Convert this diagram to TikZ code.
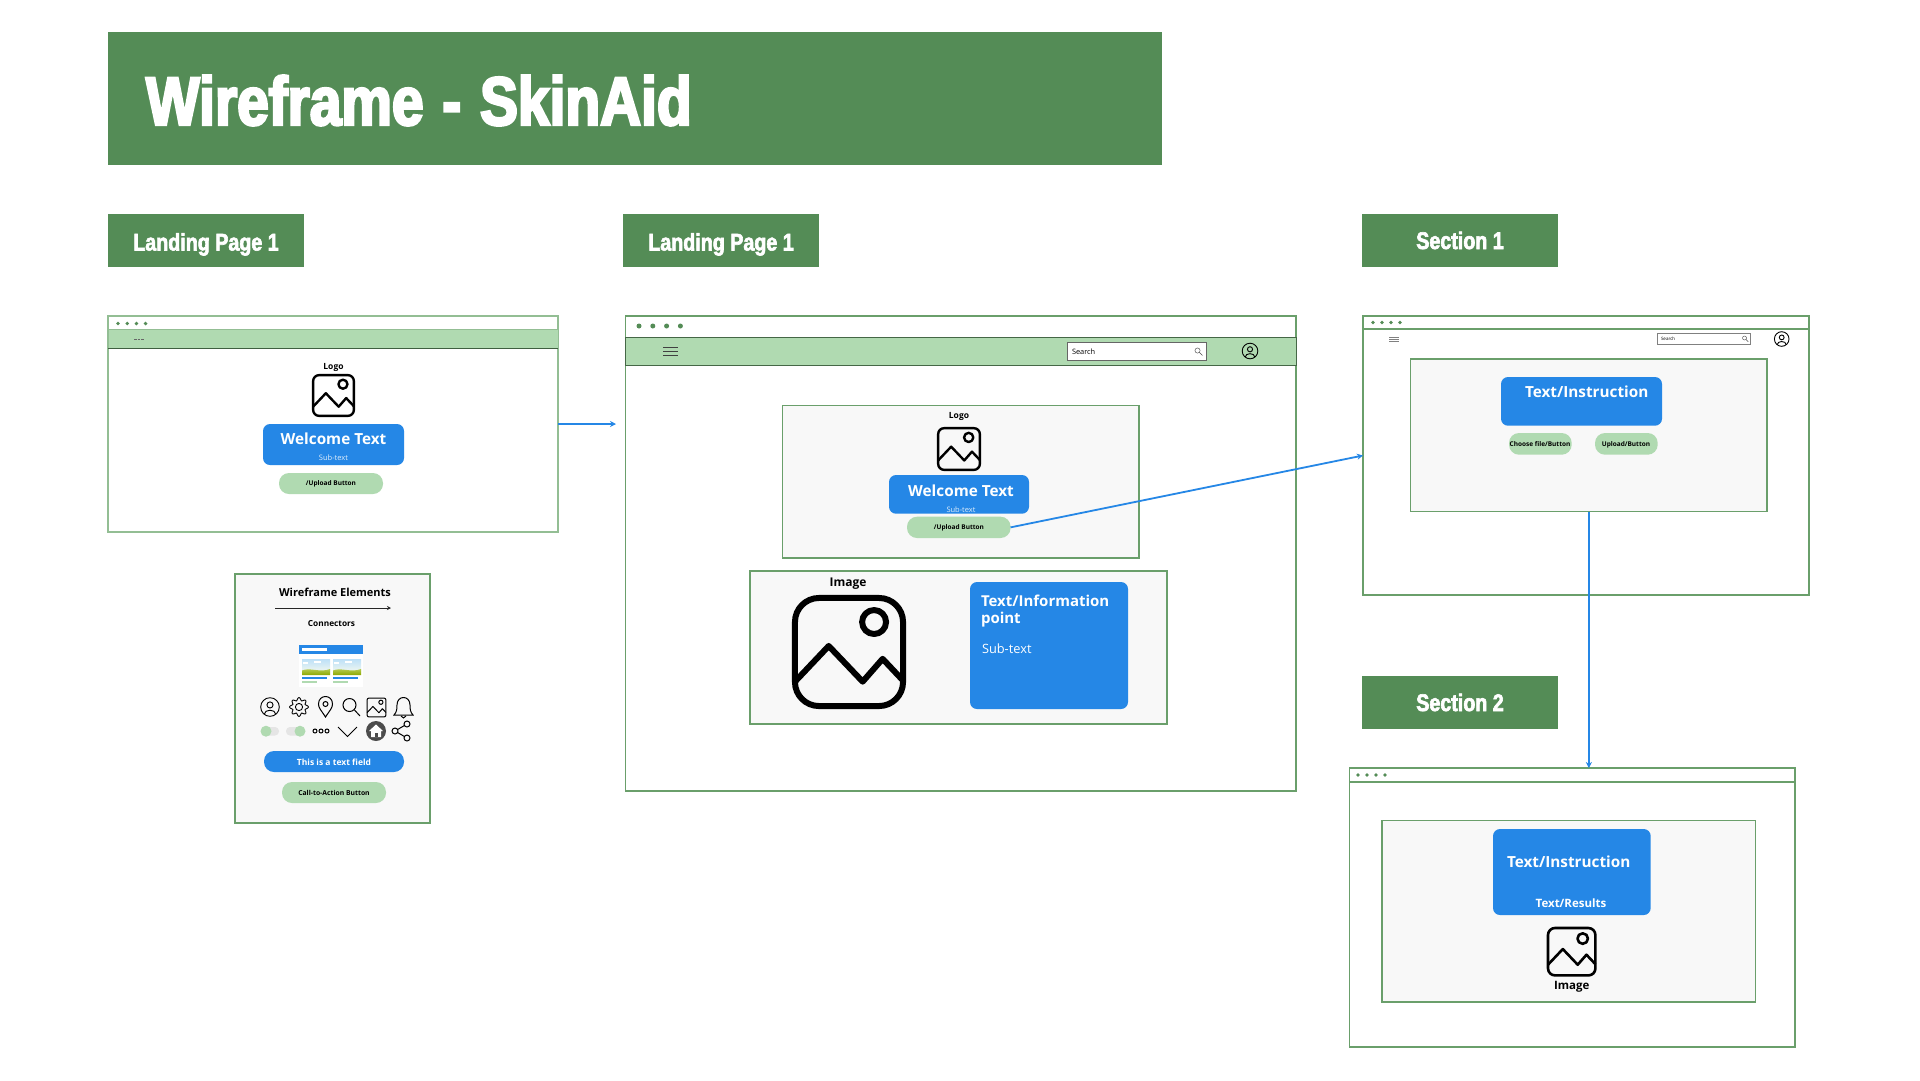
\documentclass[tikz,border=0pt]{standalone}
\usepackage{fontspec}
\setmainfont{Open Sans}
\newfontfamily\titlefont[FakeStretch=0.83,FakeBold=3.6]{Liberation Sans Bold}
\newfontfamily\headfont[FakeStretch=0.82,FakeBold=2.6]{Liberation Sans Bold}
\usetikzlibrary{arrows.meta}
\definecolor{hdr}{HTML}{548C56}
\definecolor{lgreen}{HTML}{B0DAB1}
\definecolor{wblue}{HTML}{2587E6}
\definecolor{pnl}{HTML}{F8F8F8}
\definecolor{frm}{HTML}{6A9F6B}
\definecolor{frmlight}{HTML}{93BE94}
\definecolor{skytop}{HTML}{BDE0F8}
\definecolor{skybot}{HTML}{F2F8F0}
\definecolor{hilltop}{HTML}{C2D46A}
\definecolor{hillbot}{HTML}{8CA800}
\tikzset{
 boxbase/.style={inner sep=0pt,outer sep=0pt,align=center},
 header/.style={boxbase,fill=hdr,text=white},
 frame/.style={boxbase,draw=frm,line width=1.1pt,fill=white},
 bar/.style={boxbase,draw=black!35!frm,line width=0.9pt,fill=lgreen},
 panel/.style={boxbase,draw=frm,line width=1.1pt,fill=pnl},
 bluebox/.style={boxbase,fill=wblue,text=white,rounded corners=7pt},
 bluepill/.style={boxbase,fill=wblue,text=white,rounded corners=10pt},
 pill/.style={boxbase,fill=lgreen,text=black,rounded corners=10pt},
 label/.style={inner sep=0pt,outer sep=0pt,align=center},
 conn/.style={draw=wblue,line width=1.8pt,-{Stealth[length=6pt,width=6pt]}},
 dot/.style={fill=hdr,draw=none},
 ic/.style={draw=black,line width=1pt,fill=none},
 headlabel/.style={label,text=white,font=\headfont\fontsize{24}{24}\selectfont,text height=17pt,text depth=0pt},
}
% corners -> node
\newcommand{\rn}[7][]{\node[#2,#1,minimum width={(#5-#3)*1pt},minimum height={(#6-#4)*1pt}] (#7) at ({(#3+#5)/2},{(#4+#6)/2}) {};}
% text node, vertically centred on its cap height
\newcommand{\tn}[5][]{\pgfmathsetmacro\tnh{0.71*#5}\node[label,#1,font=\bfseries\fontsize{#5}{#5}\selectfont,text height=\tnh pt,text depth=0pt] (#2) at (#3,{#4+0.06*#5})}
\newcommand{\imgicon}[5]{% x y size lw radius
 \begin{scope}[shift={(#1,#2)},x=#3pt,y=-#3pt,line width=#4pt,line join=round]
 \draw[rounded corners=#5pt] (0.026,0.026) rectangle (0.974,0.974);
 \draw (0.72,0.237) circle (0.105);
 \draw (0.026,0.76) -- (0.322,0.447) -- (0.62,0.76) -- (0.795,0.56) -- (0.974,0.75);
 \end{scope}}
\newcommand{\fourdots}[4]{% x y step r
 \foreach \i in {0,1,2,3} \fill[dot] ({#1+\i*#3},#2) circle (#4);}
\newcommand{\usericon}[3]{% x y r
 \begin{scope}[shift={(#1,#2)},x=#3pt,y=-#3pt,line width=0.9pt,black]
 \draw (0,0) circle (1);
 \draw (0,-0.22) circle (0.33);
 \draw (-0.62,0.78) .. controls (-0.6,0.2) and (0.6,0.2) .. (0.62,0.78);
 \end{scope}}
\newcommand{\magicon}[3]{% x y r
 \draw[black!70,line width=0.45pt] (#1,#2) circle (#3);
 \draw[black!70,line width=0.45pt] ({#1+0.7*#3},{#2+0.7*#3}) -- ({#1+1.9*#3},{#2+1.9*#3});}
\newcommand{\burger}[5]{% x1 x2 y gap colour
 \foreach \i in {0,1,2} \draw[#5] (#1,{#3+\i*#4}) -- (#2,{#3+\i*#4});}
\begin{document}
\begin{tikzpicture}[x=1pt,y=-1pt]
\useasboundingbox[fill=white] (0,0) rectangle (1920,1080);
% title
\rn{header}{108}{32}{1162}{165}{titlebox}
\node[label,text=white,anchor=west,font=\titlefont\fontsize{68.5}{68.5}\selectfont,text height=49pt,text depth=0pt] (titletext) at (146,100.5) {Wireframe\hspace{3pt} - \hspace{3pt}SkinAid};
% section headers
\rn{header}{108}{214}{304}{267}{h1}
\node[headlabel] (h1t) at (206,242) {Landing Page 1};
\rn{header}{623}{214}{819}{267}{h2}
\node[headlabel] (h2t) at (721,242) {Landing Page 1};
\rn{header}{1362}{214}{1558}{267}{h3}
\node[headlabel] (h3t) at (h3) {Section 1};
\rn{header}{1362}{676}{1558}{729}{h4}
\node[headlabel] (h4t) at (h4) {Section 2};
% frame 1
\rn[draw=frmlight,line width=1.3pt]{frame}{108}{316}{558}{532}{fa}
\rn[draw=frmlight]{bar}{108}{329}{558}{348}{faBar}
\draw[black!40!frm,line width=1pt] (faBar.south west) -- (faBar.south east);
\fourdots{118}{323.5}{9.2}{1.9}
\foreach \xx in {134,137.5,141} \draw[black!60,line width=0.8pt] (\xx,339) -- ({\xx+2.5},339);
\tn{faLogo}{333.5}{366}{8.5}{Logo};
\imgicon{312}{374}{43}{2.4}{6}
\rn{bluebox}{263}{424}{404}{465}{faBlue}
\tn[text=white]{faWelcome}{333.5}{438}{15.3}{Welcome Text};
\node[label,text=white!85!wblue,font=\fontsize{7.5}{7.5}\selectfont] (faSub) at (333.5,457.5) {Sub-text};
\rn{pill}{279}{473}{383}{494}{faBtn}
\tn{faBtnT}{331}{483}{6.5}{/Upload Button};
% elements panel
\rn[draw=frm]{panel}{235}{574}{430}{823}{ep}
\tn{epT}{335}{592}{11}{Wireframe Elements};
\coordinate (epA) at (275,608);
\coordinate (epB) at (391,608);
\draw[black!85,line width=1pt,-{Stealth[length=4pt,width=4pt]}] (epA) -- (epB);
\tn{epC}{331.5}{623}{8.3}{Connectors};
% thumbnail
\fill[white] (299,645) rectangle (363,687);
\fill[wblue] (299,645) rectangle (363,654);
\fill[white] (302,648) rectangle (327,650.5);
\foreach \xx in {302,333}{
 \shade[top color=skytop,bottom color=skybot] (\xx,659) rectangle ({\xx+28},672);
 \fill[white] ({\xx+1},662) rectangle ({\xx+6},663.5);
 \fill[white] ({\xx+12},661) rectangle ({\xx+19},663);
 \shade[top color=hilltop,bottom color=hillbot] (\xx,670.5) .. controls ({\xx+8},667) and ({\xx+18},673) .. ({\xx+28},669) -- ({\xx+28},675) -- (\xx,675) -- cycle;
 \fill[wblue] (\xx,677) rectangle ({\xx+25},679);
 \fill[lgreen] (\xx,681) rectangle ({\xx+15},683);
}
% icons row 1
\usericon{270}{707}{9.3}
\draw[ic,line width=0.9pt] plot[domain=0:360,samples=65,smooth cycle] ({299+(8+1.4*cos(8*\x))*cos(\x)},{707+(8+1.4*cos(8*\x))*sin(\x)});
\draw[ic,line width=0.9pt] (299,707) circle (3.6);
\draw[ic] (325.5,717) .. controls (321,710) and (318.5,708) .. (318.5,704) .. controls (318.5,694) and (332.5,694) .. (332.5,704) .. controls (332.5,708) and (330,710) .. (325.5,717) -- cycle;
\draw[ic] (325.5,704) circle (2.5);
\draw[ic] (349.5,705) circle (6.5);
\draw[ic] (354.5,710) -- (360,716);
\imgicon{366.5}{697.5}{20}{1}{2}
\draw[ic] (394,715) .. controls (397,712) and (397,708) .. (397,705) .. controls (397,695) and (410,695) .. (410,705) .. controls (410,708) and (410,712) .. (413,715) -- cycle;
\draw[ic] (401,716) .. controls (402,718.5) and (405,718.5) .. (406,716);
% icons row 2
\fill[black!10,rounded corners=4pt] (262,727) rectangle (279,735.5);
\fill[lgreen] (266,731.2) circle (5.5);
\fill[black!10,rounded corners=4pt] (286,727) rectangle (303,735.5);
\fill[lgreen] (300,731.2) circle (5.5);
\foreach \xx in {315,321,327} \draw[ic] (\xx,731) circle (2);
\draw[ic] (338,727) -- (347.5,736.5) -- (357,727);
\fill[black!70] (376,731) circle (10);
\fill[white] (369,731) -- (376,724.5) -- (383,731) -- (381,731) -- (381,737) -- (371,737) -- (371,731) -- cycle;
\fill[black!70] (374.5,733) rectangle (377.5,737);
\draw[ic] (395,731) circle (3) (407,724) circle (3) (407,738) circle (3);
\draw[ic] (397.6,729.5) -- (404.4,725.5) (397.6,732.5) -- (404.4,736.5);
\rn{bluepill}{264}{751}{404}{772}{epField}
\tn[text=white]{epFieldT}{334}{762}{8.5}{This is a text field};
\rn{pill}{282}{782}{386}{803}{epBtn}
\tn{epBtnT}{334}{793}{6.8}{Call-to-Action Button};
% main frame
\rn{frame}{625.4}{316}{1296}{791}{fb}
\rn{bar}{625.4}{337}{1296}{365}{fbBar}
\fourdots{639}{326}{13.8}{2.5}
\burger{663}{678}{347}{4.2}{black!75,line width=1pt}
\rn[draw=black!60,line width=0.8pt,fill=white]{boxbase}{1067}{342.7}{1206.6}{360}{fbSearch}
\node[label,anchor=west,font=\fontsize{7.4}{7.4}\selectfont] (fbSearchT) at (1072,351.5) {Search};
\magicon{1197.5}{350.5}{2.6}
\usericon{1250}{351}{7.8}
\rn{panel}{782.5}{405.7}{1139}{558}{pa}
\tn{paLogo}{959}{415}{8.5}{Logo};
\imgicon{937}{427}{44}{2.4}{6}
\rn{bluebox}{889}{475}{1029}{513.7}{paBlue}
\tn[text=white]{paWelcome}{961}{490.5}{15.3}{Welcome Text};
\node[label,text=white!85!wblue,font=\fontsize{7.5}{7.5}\selectfont] (paSub) at (961,509.5) {Sub-text};
\rn{pill}{907}{516.7}{1010.6}{538}{paBtn}
\tn{paBtnT}{959}{527}{6.5}{/Upload Button};
\rn{panel}{750}{571}{1167}{724}{pb}
\tn{pbImg}{848}{582}{12}{Image};
\imgicon{792}{595}{114}{6}{24}
\rn{bluebox}{970}{582}{1128}{709}{pbBlue}
\node[label,anchor=base west,text=white,font=\bfseries\fontsize{15}{17}\selectfont] (pbT1) at (981,606) {Text/Information};
\node[label,anchor=base west,text=white,font=\bfseries\fontsize{15}{17}\selectfont] (pbT2) at (981,623) {point};
\node[label,anchor=west,text=white,font=\fontsize{12.8}{12.8}\selectfont] (pbSub) at (982,649) {Sub-text};
% section 1 frame
\rn{frame}{1363}{316}{1809}{595}{fc}
\coordinate (fcL) at (1363,329);
\coordinate (fcR) at (1809,329);
\draw[frm,line width=1.1pt] (fcL) -- (fcR);
\fourdots{1373}{322.5}{9}{1.9}
\burger{1389}{1399}{337}{2.4}{black!50,line width=0.7pt}
\rn[draw=black!50,line width=0.7pt,fill=white]{boxbase}{1657}{333}{1750}{344}{fcSearch}
\node[label,anchor=west,font=\fontsize{4.5}{4.5}\selectfont] (fcSearchT) at (1661,338.5) {Search};
\magicon{1744.5}{338}{2}
\usericon{1781.7}{339}{7.3}
\rn{panel}{1410.7}{359}{1767}{511.7}{pc}
\rn{bluebox}{1501}{377}{1662}{425.7}{pcBlue}
\tn[text=white]{pcT}{1586.7}{391}{15.3}{Text/Instruction};
\rn{pill}{1509}{433}{1571.7}{454.7}{pcBtn1}
\tn{pcBtn1T}{1540}{443.7}{6.5}{Choose file/Button};
\rn{pill}{1595}{433}{1657.7}{454.7}{pcBtn2}
\tn{pcBtn2T}{1626}{443.7}{6.5}{Upload/Button};
% section 2 frame
\rn{frame}{1349.4}{768}{1795}{1047}{fd}
\coordinate (fdL) at (1349.4,782);
\coordinate (fdR) at (1795,782);
\draw[frm,line width=1.1pt] (fdL) -- (fdR);
\fourdots{1358}{775}{9}{1.9}
\rn{panel}{1382}{820.7}{1755.7}{1002}{pd}
\rn{bluebox}{1493}{829}{1650.7}{915}{pdBlue}
\tn[text=white]{pdT}{1568.7}{861}{15.3}{Text/Instruction};
\tn[text=white]{pdR}{1571}{902.7}{11.5}{Text/Results};
\imgicon{1546.7}{926.7}{50}{2.6}{7}
\tn{pdI}{1571.7}{984.5}{11.5}{Image};
% connectors
\coordinate (arrowEnd) at (616,424);
\draw[conn] (fa.east) -- (arrowEnd);
\draw[conn] (paBtn.east) -- (fc.west);
\draw[conn] (pc.south) -- (pc.south |- fd.north);
\end{tikzpicture}
\end{document}
